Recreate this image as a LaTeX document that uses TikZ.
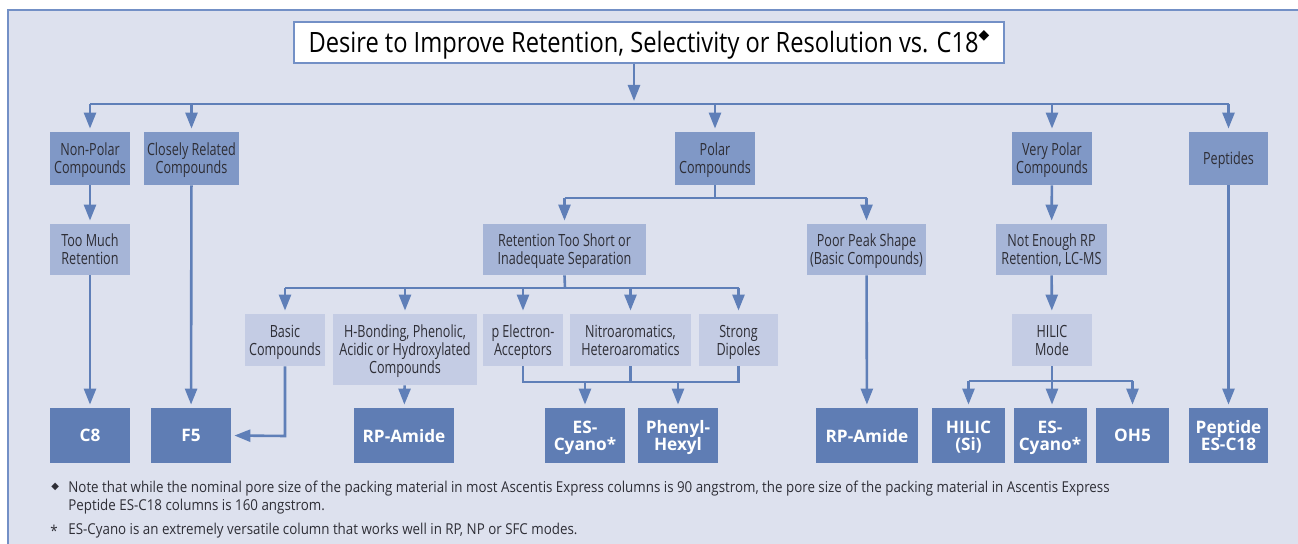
\documentclass[tikz,border=0pt]{standalone}
\usepackage{fontspec}
\setmainfont{Open Sans}
\newfontfamily\cond[FakeStretch=0.75]{Open Sans}
\newfontfamily\titlef[FakeStretch=0.845]{Open Sans}
\newfontfamily\notef[FakeStretch=0.89]{Open Sans}
\newfontfamily\sym{DejaVu Sans}
\usetikzlibrary{arrows.meta}
\definecolor{bg}{HTML}{DDE1EE}
\definecolor{frm}{HTML}{7390C6}
\definecolor{ln}{HTML}{5F7FB8}
\definecolor{cA}{HTML}{8098C6}
\definecolor{cB}{HTML}{A6B5D7}
\definecolor{cC}{HTML}{C4CCE4}
\definecolor{cD}{HTML}{5F7DB4}
\definecolor{tx}{HTML}{2E2E36}
\tikzset{
  boxbase/.style={draw=none, align=center, inner sep=0pt, text=tx, text depth=0pt,
    font=\cond\fontsize{8.4}{9}\selectfont},
  boxA/.style={boxbase, fill=cA, minimum height=26.5pt},
  boxB/.style={boxbase, fill=cB, minimum height=25.5pt},
  boxC/.style={boxbase, fill=cC, minimum height=26pt},
  boxD/.style={boxbase, fill=cD, minimum height=27.5pt, text=white,
    font=\bfseries\fontsize{8.6}{8.6}\selectfont},
  conn/.style={draw=ln, line width=1.3pt},
  arr/.style={conn, -{Triangle[width=6pt,length=8pt]}, shorten >=1.5pt},
  titlebox/.style={draw=frm, line width=1pt, fill=white, inner sep=0pt,
    minimum width=355pt, minimum height=20.5pt, text height=10pt, text depth=0pt,
    font=\titlef\fontsize{14}{16}\selectfont},
  note/.style={anchor=base west, inner sep=0pt, text=tx,
    font=\notef\fontsize{7.5}{9}\selectfont}
}
\begin{document}
\begin{tikzpicture}[x=0.5pt,y=-0.5pt]
\useasboundingbox (0,0) rectangle (1298,544);
\begin{scope}
\clip (0,0) rectangle (1298,544);
\fill[white] (0,0) rectangle (1298,544);
\draw[draw=frm, line width=1pt, fill=bg] (8,10) rectangle (1320,570);
\end{scope}

% title
\node[titlebox] (title) at (649,42.5) {Desire to Improve Retention, Selectivity or Resolution vs. C18\raisebox{0.9ex}{\sym\fontsize{7}{7}\selectfont ◆}};

% level 1
\node[boxA, minimum width=40pt]   (np)  at (90,158.5)   {Non-Polar\\Compounds};
\node[boxA, minimum width=47.5pt] (cr)  at (191.5,158.5) {Closely Related\\Compounds};
\node[boxA, minimum width=40pt]   (pol) at (715,158.5)  {Polar\\Compounds};
\node[boxA, minimum width=40pt]   (vp)  at (1052,158.5) {Very Polar\\Compounds};
\node[boxA, minimum width=39.5pt] (pep) at (1228.5,158.5) {Peptides};

% level 2
\node[boxB, minimum width=40pt]   (tm)  at (90,249.5)    {Too Much\\Retention};
\node[boxB, minimum width=81.5pt] (rts) at (564.5,249.5) {Retention Too Short or\\Inadequate Separation};
\node[boxB, minimum width=59.5pt] (pps) at (866.5,249.5) {Poor Peak Shape\\(Basic Compounds)};
\node[boxB, minimum width=55.5pt] (ne)  at (1051.5,249.5) {Not Enough RP\\Retention, LC-MS};

% level 3
\node[boxC, minimum width=40pt]   (bc) at (285,340)    {Basic\\Compounds};
\node[boxC, minimum width=72pt, minimum height=35.5pt] (hb) at (405,349.5) {H-Bonding, Phenolic,\\Acidic or Hydroxylated\\Compounds};
\node[boxC, minimum width=40pt]   (pe) at (523,340)    {p Electron-\\Acceptors};
\node[boxC, minimum width=60.5pt] (na) at (630.5,340)  {Nitroaromatics,\\Heteroaromatics};
\node[boxC, minimum width=39.5pt] (sd) at (738.5,340)  {Strong\\Dipoles};
\node[boxC, minimum width=40pt]   (hm) at (1052,340)   {HILIC\\Mode};

% level 4
\node[boxD, minimum width=40pt]   (c8)   at (90,435.5)     {C8};
\node[boxD, minimum width=40pt]   (f5)   at (191,435.5)    {F5};
\node[boxD, minimum width=50pt]   (rpa1) at (404,435.5)    {RP-Amide};
\node[boxD, minimum width=40pt]   (esc1) at (585,435.5)    {ES-\\Cyano*};
\node[boxD, minimum width=40pt]   (ph)   at (678,435.5)    {Phenyl-\\Hexyl};
\node[boxD, minimum width=51pt]   (rpa2) at (867,435.5)    {RP-Amide};
\node[boxD, minimum width=36.5pt] (hs)   at (968.5,435.5)  {HILIC\\(Si)};
\node[boxD, minimum width=36.5pt] (esc2) at (1050,435.5)   {ES-\\Cyano*};
\node[boxD, minimum width=36.5pt] (oh5)  at (1132.5,435.5) {OH5};
\node[boxD, minimum width=39.5pt] (pc18) at (1228.5,435.5) {Peptide\\ES-C18};

% junction coordinates
\coordinate (j0) at (634,104);
\coordinate (j1) at (715,198);
\coordinate (j2) at (565,288);
\coordinate (j3) at (585,382);
\coordinate (j3b) at (678,382);
\coordinate (j4) at (1052,381);
\coordinate (jb) at (285,436);

% top level
\draw[arr] (title.south -| j0) -- (j0);
\draw[conn] (j0 -| np) -- (j0 -| pep);
\foreach \n in {np,cr,pol,vp,pep} \draw[arr] (j0 -| \n) -- (\n.north);

% left columns
\draw[arr] (np) -- (tm);
\draw[arr] (tm) -- (c8);
\draw[arr] (cr) -- (f5);

% polar
\draw[conn] (pol.south) -- (j1);
\draw[conn] (j1 -| rts) -- (j1 -| pps);
\draw[arr] (j1 -| rts) -- (rts.north);
\draw[arr] (j1 -| pps) -- (pps.north);

% retention too short
\draw[conn] (rts.south) -- (j2);
\draw[conn] (j2 -| bc) -- (j2 -| sd);
\foreach \n in {bc,hb,pe,na,sd} \draw[arr] (j2 -| \n) -- (\n.north);

\draw[arr] (bc.south) -- (jb) -- (f5.east);
\draw[arr] (hb) -- (rpa1);

\draw[conn] (pe.south) -- (j3 -| pe) -- (j3 -| sd) -- (sd.south);
\draw[conn] (na.south) -- (j3 -| na);
\draw[arr] (j3) -- (esc1.north);
\draw[arr] (j3b) -- (ph.north);

\draw[arr] (pps) -- (rpa2);

% very polar
\draw[arr] (vp) -- (ne);
\draw[arr] (ne) -- (hm);
\draw[conn] (hm.south) -- (j4);
\draw[conn] (j4 -| hs) -- (j4 -| oh5);
\draw[arr] (j4 -| hs) -- (hs.north);
\draw[arr] (j4) -- (j4 |- esc2.north);
\draw[arr] (j4 -| oh5) -- (oh5.north);

% peptides
\draw[arr] (pep) -- (pc18);

% footnotes
\node[note] (fd) at (51,490) {\sym\fontsize{5}{5}\selectfont ◆};
\node[note] (f1) at (68,493) {Note that while the nominal pore size of the packing material in most Ascentis Express columns is 90 angstrom, the pore size of the packing material in Ascentis Express};
\node[note] (f1b) at (68,511) {Peptide ES-C18 columns is 160 angstrom.};
\node[note] (fa) at (50,537) {*};
\node[note] (f2) at (68,534.5) {ES-Cyano is an extremely versatile column that works well in RP, NP or SFC modes.};
\end{tikzpicture}
\end{document}
